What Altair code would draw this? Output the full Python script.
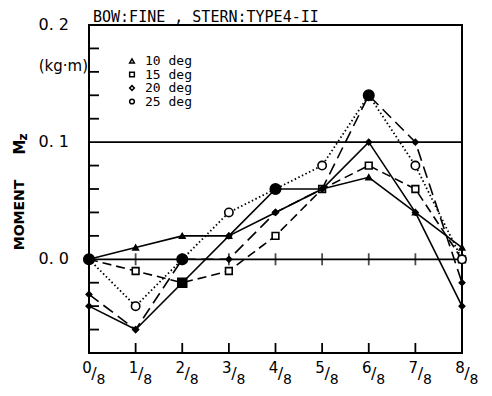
import altair as alt
import pandas as pd

# ---- data ----
X_POS = [0, 1, 2, 3, 4, 5, 6, 7, 8]
NUMERATORS = ["0", "1", "2", "3", "4", "5", "6", "7", "8"]

S10 = [0.0, 0.01, 0.02, 0.02, 0.06, 0.06, 0.07, 0.04, 0.01]
S15 = [0.0, -0.01, -0.02, -0.01, 0.02, 0.06, 0.08, 0.06, 0.0]
S20A = [-0.04, -0.06, -0.02, 0.02, 0.04, 0.06, 0.10, 0.04, -0.04]
S20B = [-0.03, -0.06, 0.0, 0.0, 0.04, 0.06, 0.14, 0.10, -0.02]
S25 = [0.0, -0.04, 0.0, 0.04, 0.06, 0.08, 0.14, 0.08, 0.0]

FILLED_15 = [0, 0, 1, 0, 0, 0, 0, 0, 0]
FILLED_25 = [1, 0, 1, 0, 1, 0, 1, 0, 0]

LEGEND_LABELS = ["10 deg", "15 deg", "20 deg", "25 deg"]
LEGEND_SHAPES = ["triangle-up", "square", "diamond", "circle"]

Y_TICKS = [-0.06, -0.04, -0.02, 0.02, 0.04, 0.06, 0.08, 0.12, 0.14, 0.16, 0.18]
Y_LABELS = {0.0: "0. 0", 0.1: "0. 1", 0.2: "0. 2"}

W, H = 373, 328
FONT = "DejaVu Sans"
MONO = "DejaVu Sans Mono"

xs = alt.Scale(domain=[0, 8])
ys = alt.Scale(domain=[-0.08, 0.2])

series = [
    ("s10", S10, "triangle-up", [1] * 9, 30, []),
    ("s15", S15, "square", FILLED_15, 45, [9, 5]),
    ("s20a", S20A, "diamond", [1] * 9, 30, []),
    ("s20b", S20B, "diamond", [1] * 9, 30, [12, 6]),
    ("s25", S25, "circle", FILLED_25, 70, [1.5, 2.5]),
]

layers = []

# horizontal lines at 0 and 0.1
hl = pd.DataFrame({"v": [0.0, 0.1]})
layers.append(alt.Chart(hl).mark_rule(color="black", strokeWidth=1.8).encode(
    y=alt.Y("v:Q", scale=ys), x=alt.value(0), x2=alt.value(W)))

# y ticks inside left edge
yt = pd.DataFrame({"v": Y_TICKS})
layers.append(alt.Chart(yt).mark_rule(color="black", strokeWidth=1.8).encode(
    y=alt.Y("v:Q", scale=ys), x=alt.value(0), x2=alt.value(10)))

# x ticks at bottom and crosses on zero line
xt = pd.DataFrame({"x": X_POS[1:-1], "z": [0.0] * 7})
layers.append(alt.Chart(xt).mark_rule(color="black", strokeWidth=1.8).encode(
    x=alt.X("x:Q", scale=xs), y=alt.value(H - 10), y2=alt.value(H)))
layers.append(alt.Chart(xt).mark_tick(color="black", thickness=1.8, size=12, orient="vertical").encode(
    x=alt.X("x:Q", scale=xs), y=alt.Y("z:Q", scale=ys)))

for name, vals, shape, filled, size, dash in series:
    df = pd.DataFrame({"x": X_POS, "y": vals, "filled": filled})
    if name == "s25":
        df["size"] = [110 if f else 70 for f in filled]
    elif name == "s15":
        df["size"] = [80 if f else 45 for f in filled]
    else:
        df["size"] = [size] * 9
    line_kw = dict(color="black", strokeWidth=1.6)
    if dash:
        line_kw["strokeDash"] = dash
    if name == "s25":
        line_kw["strokeWidth"] = 1.8
    layers.append(alt.Chart(df).mark_line(**line_kw).encode(
        x=alt.X("x:Q", scale=xs), y=alt.Y("y:Q", scale=ys)))
    layers.append(alt.Chart(df).mark_point(shape=shape, stroke="black", strokeWidth=1.6, opacity=1).encode(
        x=alt.X("x:Q", scale=xs), y=alt.Y("y:Q", scale=ys),
        size=alt.Size("size:Q", scale=None),
        fill=alt.condition("datum.filled == 1", alt.value("black"), alt.value("white"))))

# legend
lg = pd.DataFrame({"label": LEGEND_LABELS, "shape": LEGEND_SHAPES,
                   "py": [36 + 13.5 * i for i in range(4)]})
layers.append(alt.Chart(lg).mark_point(filled=False, color="black", strokeWidth=1.5, size=22, opacity=1).encode(
    x=alt.value(43), y=alt.Y("py:Q", scale=None),
    shape=alt.Shape("shape:N", scale=None)))
layers.append(alt.Chart(lg).mark_text(align="left", baseline="middle", font=MONO, fontSize=13).encode(
    x=alt.value(56), y=alt.Y("py:Q", scale=None), text="label:N"))

# y-axis labels
yl = pd.DataFrame({"v": list(Y_LABELS.keys()), "t": list(Y_LABELS.values())})
layers.append(alt.Chart(yl).mark_text(align="right", baseline="middle", font=FONT, fontSize=16).encode(
    y=alt.Y("v:Q", scale=ys), x=alt.value(-20), text="t:N"))
unit = pd.DataFrame({"t": ["(kg·m)"], "v": [0.165]})
layers.append(alt.Chart(unit).mark_text(align="right", baseline="middle", font=FONT, fontSize=15).encode(
    y=alt.Y("v:Q", scale=ys), x=alt.value(-1), text="t:N"))

# y title
yt1 = pd.DataFrame({"t": ["MOMENT"]})
layers.append(alt.Chart(yt1).mark_text(angle=270, baseline="middle", align="center", font=FONT,
                                       fontSize=14, fontWeight="bold").encode(
    x=alt.value(-69), y=alt.value(190), text="t:N"))
yt2 = pd.DataFrame({"t": ["M"]})
layers.append(alt.Chart(yt2).mark_text(angle=270, baseline="middle", align="center", font=FONT,
                                       fontSize=15, fontWeight="bold").encode(
    x=alt.value(-69), y=alt.value(122), text="t:N"))
yt3 = pd.DataFrame({"t": ["z"]})
layers.append(alt.Chart(yt3).mark_text(angle=270, baseline="middle", align="center", font=FONT,
                                       fontSize=12, fontWeight="bold").encode(
    x=alt.value(-66), y=alt.value(112), text="t:N"))

# x fraction labels
fl = pd.DataFrame({"x": X_POS, "n": NUMERATORS, "s": ["/"] * 9, "d": ["8"] * 9})
layers.append(alt.Chart(fl).mark_text(baseline="middle", font=FONT, fontSize=15, dx=-2).encode(
    x=alt.X("x:Q", scale=xs), y=alt.value(H + 15), text="n:N"))
layers.append(alt.Chart(fl).mark_text(baseline="middle", font=FONT, fontSize=16, dx=5).encode(
    x=alt.X("x:Q", scale=xs), y=alt.value(H + 21), text="s:N"))
layers.append(alt.Chart(fl).mark_text(baseline="middle", font=FONT, fontSize=14, dx=12).encode(
    x=alt.X("x:Q", scale=xs), y=alt.value(H + 27), text="d:N"))

# title
tt = pd.DataFrame({"t": ["BOW:FINE , STERN:TYPE4-II"]})
layers.append(alt.Chart(tt).mark_text(align="left", baseline="top", font=MONO, fontSize=15).encode(
    x=alt.value(4), y=alt.value(-15), text="t:N"))

chart = alt.layer(*layers).properties(
    width=W, height=H,
    padding={"left": 81, "top": 17, "right": 22, "bottom": 35},
    autosize="none",
).configure_view(stroke="black", strokeWidth=2).configure_axis(disable=True)

chart.save("out.html", embed_options={"renderer": "svg", "actions": False})
